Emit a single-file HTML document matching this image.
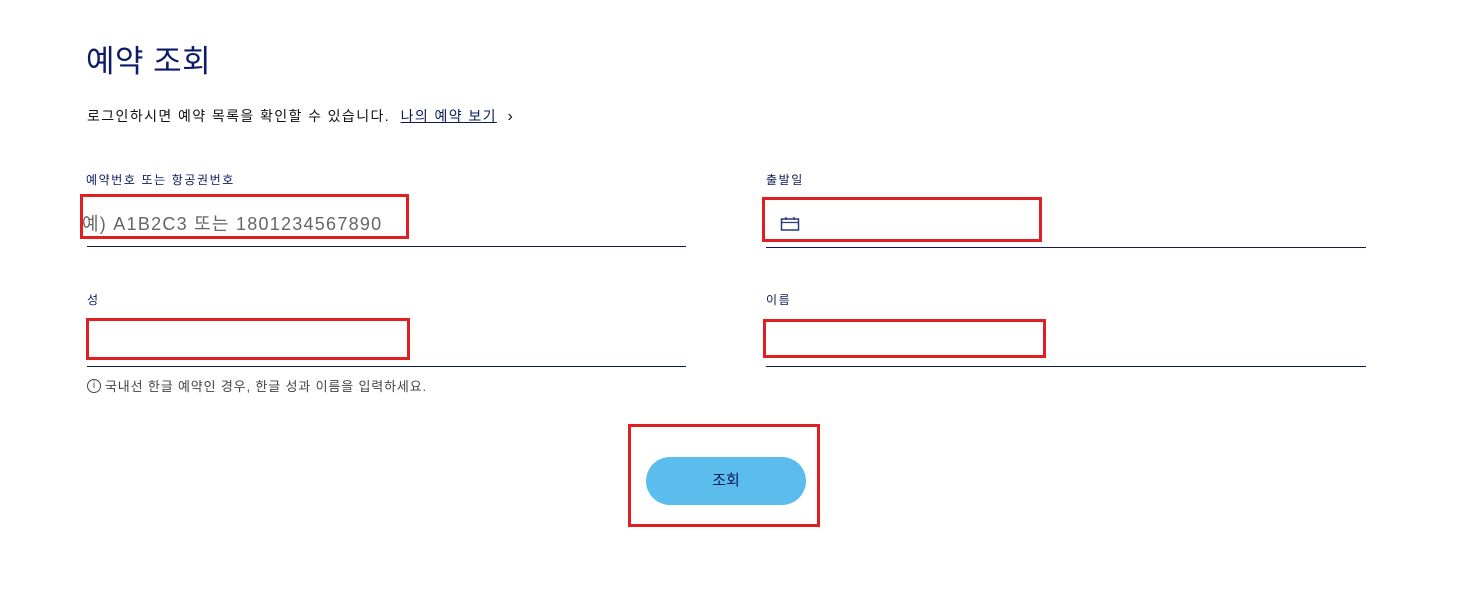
<!DOCTYPE html>
<html><head><meta charset="utf-8"><style>
body{margin:0;width:1461px;height:593px;background:#fff;position:relative;overflow:hidden;font-family:"Liberation Sans","Noto Sans CJK KR",sans-serif;color:#0c1a5a}
.a{position:absolute;white-space:nowrap}
.rb{position:absolute;border:3px solid #e02020;box-sizing:border-box}
.ln{position:absolute;height:1px;background:#0c1a5a}
</style></head><body>
<div class="a" style="left:86px;top:40px;font-size:31px;line-height:44px;color:#0c1a6a;letter-spacing:0.5px">예약 조회</div>
<div class="a" style="left:87px;top:106px;font-size:14px;line-height:20px;color:#111;letter-spacing:1.4px">로그인하시면 예약 목록을 확인할 수 있습니다.&nbsp; <span style="text-decoration:underline;color:#0c1a5a">나의 예약 보기</span>&nbsp;&nbsp;<span style="font-size:16px">&#x203A;</span></div>
<div class="a" style="left:86px;top:171px;font-size:12px;line-height:18px;letter-spacing:1.6px">예약번호 또는 항공권번호</div>
<div class="a" style="left:82px;top:211px;font-size:18px;line-height:26px;color:#666;letter-spacing:1.25px">예) A1B2C3 또는 1801234567890</div>
<div class="ln" style="left:87px;top:246px;width:599px"></div>
<div class="a" style="left:766px;top:171px;font-size:12px;line-height:18px;letter-spacing:1.6px">출발일</div>
<svg class="a" style="left:780px;top:216px" width="20" height="16" viewBox="0 0 20 16"><rect x="1.5" y="3" width="17" height="11" fill="none" stroke="#2a3a7a" stroke-width="1.5"/><line x1="1.5" y1="6.5" x2="18.5" y2="6.5" stroke="#2a3a7a" stroke-width="1.3"/><line x1="6" y1="1" x2="6" y2="4" stroke="#2a3a7a" stroke-width="1.5"/><line x1="14" y1="1" x2="14" y2="4" stroke="#2a3a7a" stroke-width="1.5"/></svg>
<div class="ln" style="left:766px;top:247px;width:600px"></div>
<div class="a" style="left:87px;top:291px;font-size:12px;line-height:18px">성</div>
<div class="ln" style="left:87px;top:366px;width:599px"></div>
<div class="a" style="left:766px;top:291px;font-size:12px;line-height:18px;letter-spacing:1.6px">이름</div>
<div class="ln" style="left:766px;top:366px;width:600px"></div>
<span class="a" style="left:87px;top:379px;width:14px;height:14px;border:1.3px solid #444;border-radius:50%;font-size:10px;line-height:12px;text-align:center;box-sizing:border-box;color:#444">i</span>
<div class="a" style="left:105px;top:377px;font-size:13px;line-height:19px;color:#444;letter-spacing:0.85px">국내선 한글 예약인 경우, 한글 성과 이름을 입력하세요.</div>
<div class="a" style="left:646px;top:457px;width:160px;height:48px;border-radius:24px;background:#5bbcee;text-align:center;line-height:48px;font-size:15px;color:#0c1a5a">조회</div>
<div class="rb" style="left:80px;top:194px;width:329px;height:45px"></div>
<div class="rb" style="left:762px;top:197px;width:280px;height:45px"></div>
<div class="rb" style="left:86px;top:318px;width:324px;height:42px"></div>
<div class="rb" style="left:763px;top:319px;width:283px;height:39px"></div>
<div class="rb" style="left:628px;top:424px;width:192px;height:103px"></div>
</body></html>
